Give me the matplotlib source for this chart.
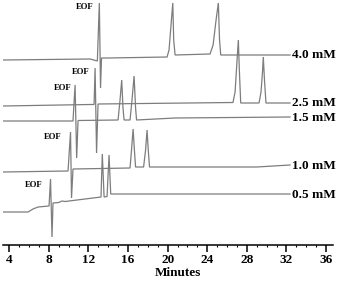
import matplotlib
matplotlib.use("Agg")
import matplotlib.pyplot as plt
from matplotlib.ticker import MultipleLocator

# ---- data (time in minutes, detector signal in arbitrary units, traces already offset) ----
t_40 = [3.4, 12.16, 12.9, 13.10, 13.22, 13.32, 14.0, 19.94, 20.14, 20.34, 20.52, 20.61, 20.75,
        24.28, 24.59, 24.89, 25.12, 25.24, 25.36, 32.36]
s_40 = [185, 186, 184, 242, 157, 187, 187, 188, 195, 220, 242, 205, 190,
        191, 200, 225, 242, 205, 190, 190]

t_25 = [3.4, 12.16, 12.57, 12.67, 12.82, 12.97, 26.6, 26.81, 27.01, 27.14, 27.24, 27.38,
        29.23, 29.43, 29.58, 29.66, 29.78, 29.93, 32.36]
s_25 = [139, 140.5, 140.5, 177, 92, 141, 142.5, 153, 185, 205, 175, 142,
        142, 153, 173, 188, 165, 142, 142]

t_15 = [3.4, 10.44, 10.65, 10.81, 10.95, 14.99, 15.19, 15.36, 15.49, 15.6, 16.2, 16.40,
        16.61, 16.76, 16.86, 20.75, 32.36]
s_15 = [124, 124, 160, 87, 124.5, 125, 145, 165, 137, 125, 125, 145,
        169, 137, 125, 127, 128]

t_10 = [3.4, 9.94, 10.19, 10.29, 10.44, 16.2, 16.35, 16.51, 16.64, 16.76, 17.57, 17.77,
        17.92, 18.04, 18.17, 29.0, 32.36]
s_10 = [73, 74, 113, 47, 76, 77, 95, 116, 95, 78, 78, 95,
        115, 95, 78, 78, 80]

t_05 = [3.4, 5.9, 6.4, 6.91, 8.02, 8.17, 8.32, 8.42, 9.0, 9.33, 9.64, 13.27, 13.40,
        13.58, 13.88, 14.08, 14.25, 20.0, 32.36]
s_05 = [33, 33, 36, 38, 39, 66, 8, 42, 42.5, 44, 43.5, 48, 91,
        48, 48.5, 90, 51, 51, 51]

conc_labels = ["4.0 mM", "2.5 mM", "1.5 mM", "1.0 mM", "0.5 mM"]
label_levels = [190, 142, 127, 79, 50]
eof_times = [12.57, 12.16, 10.34, 9.33, 7.41]
eof_levels = [238, 173, 157, 108, 60]

xticks = [4, 8, 12, 16, 20, 24, 28, 32, 36]
xlabel = "Minutes"

# ---- figure ----
plt.rcParams['font.family'] = ['Liberation Serif', 'DejaVu Serif']
fig = plt.figure(figsize=(3.4, 2.81), dpi=100)
ax = fig.add_axes([3 / 340, 1 - 245 / 281, 330 / 340, 245 / 281])

trace_color = "#7d7d7d"
for t, s in [(t_40, s_40), (t_25, s_25), (t_15, s_15), (t_10, s_10), (t_05, s_05)]:
    ax.plot(t, s, color=trace_color, lw=0.9, solid_joinstyle='miter')

for lab, lev in zip(conc_labels, label_levels):
    ax.text(32.55, lev, lab, ha='left', va='center', fontsize=9.5, fontweight='bold',
            clip_on=False)

for et, el in zip(eof_times, eof_levels):
    ax.text(et, el, "EOF", ha='right', va='center', fontsize=6.3, fontweight='bold')

ax.set_xlim(3.37, 36.7)
ax.set_ylim(0, 245)

for sp in ['left', 'right', 'top']:
    ax.spines[sp].set_visible(False)
ax.spines['bottom'].set_linewidth(1.1)
ax.set_yticks([])
ax.set_xticks(xticks)
ax.xaxis.set_minor_locator(MultipleLocator(1))
ax.tick_params(axis='x', which='major', direction='out', length=5, width=1.1, pad=1.5,
               labelsize=9.5)
ax.tick_params(axis='x', which='minor', direction='out', length=1.5, width=0.8)
for lbl in ax.get_xticklabels():
    lbl.set_fontweight('bold')

fig.text(178 / 340, 1 - 273 / 281, xlabel, ha='center', va='center', fontsize=9.5,
         fontweight='bold')

fig.savefig("out.png", dpi=100)
